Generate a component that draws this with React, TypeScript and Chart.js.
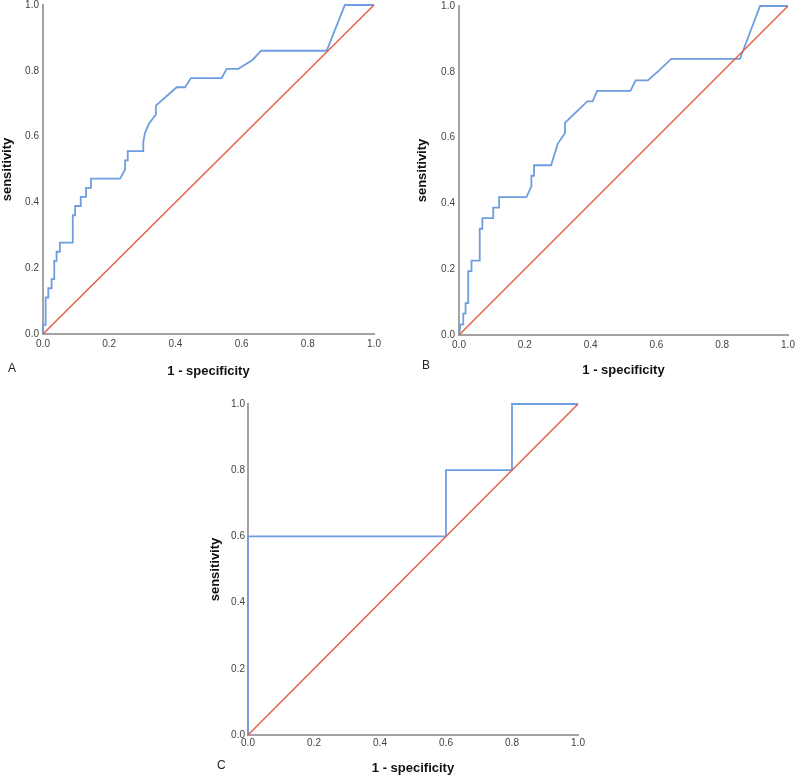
import React, { useEffect, useRef } from "react";
import { Chart, registerables } from "chart.js";

Chart.register(...registerables);

// ---- data ----
const DIAG_X = [0, 1];
const DIAG_Y = [0, 1];

const A_FPR = [0, 0, 0.008, 0.008, 0.016, 0.016, 0.026, 0.026, 0.034, 0.034, 0.041, 0.041, 0.051, 0.051, 0.09, 0.09, 0.097, 0.097, 0.114, 0.114, 0.13, 0.13, 0.145, 0.145, 0.233, 0.248, 0.248, 0.256, 0.256, 0.303, 0.303, 0.308, 0.32, 0.341, 0.341, 0.404, 0.429, 0.447, 0.54, 0.555, 0.59, 0.633, 0.659, 0.857, 0.912, 1.0];
const A_TPR = [0, 0.028, 0.028, 0.111, 0.111, 0.139, 0.139, 0.167, 0.167, 0.222, 0.222, 0.25, 0.25, 0.278, 0.278, 0.361, 0.361, 0.389, 0.389, 0.417, 0.417, 0.444, 0.444, 0.472, 0.472, 0.5, 0.528, 0.528, 0.556, 0.556, 0.583, 0.611, 0.639, 0.667, 0.694, 0.75, 0.75, 0.778, 0.778, 0.806, 0.806, 0.833, 0.861, 0.861, 1.0, 1.0];

const B_FPR = [0, 0.005, 0.013, 0.013, 0.02, 0.02, 0.028, 0.028, 0.038, 0.038, 0.063, 0.063, 0.071, 0.071, 0.104, 0.104, 0.122, 0.122, 0.205, 0.22, 0.22, 0.228, 0.228, 0.28, 0.3, 0.322, 0.322, 0.39, 0.406, 0.42, 0.521, 0.537, 0.574, 0.61, 0.645, 0.854, 0.915, 1.0];
const B_TPR = [0, 0.032, 0.032, 0.065, 0.065, 0.097, 0.097, 0.194, 0.194, 0.226, 0.226, 0.323, 0.323, 0.355, 0.355, 0.387, 0.387, 0.419, 0.419, 0.452, 0.484, 0.484, 0.516, 0.516, 0.581, 0.613, 0.645, 0.71, 0.71, 0.742, 0.742, 0.774, 0.774, 0.806, 0.839, 0.839, 1.0, 1.0];

const C_FPR = [0, 0, 0.6, 0.6, 0.8, 0.8, 1.0];
const C_TPR = [0, 0.6, 0.6, 0.8, 0.8, 1.0, 1.0];

const X_TITLE = "1 - specificity";
const Y_TITLE = "sensitivity";

// ---- styles ----
const BLUE = "#6f9de0";
const RED = "#e4644e";
const AXIS = "#a3a3a3";
const TICK = "#444444";
const FONT = "'Liberation Sans', Arial, sans-serif";

type Geo = {
  left: number; top: number; width: number; height: number;
  padTop: number; padRight: number; yAxisW: number; xAxisH: number;
  yTickPad: number; xTickPad: number; yTitlePad: number; xTitlePad: number;
};

function Panel({ fpr, tpr, geo }: { fpr: number[]; tpr: number[]; geo: Geo }) {
  const ref = useRef<HTMLCanvasElement | null>(null);
  useEffect(() => {
    if (!ref.current) return;
    const tickFont = { family: FONT, size: 10 };
    const titleFont = { family: FONT, size: 13, weight: "bold" as const, lineHeight: 1 };
    const chart = new Chart(ref.current, {
      type: "scatter",
      data: {
        datasets: [
          {
            data: DIAG_X.map((x, i) => ({ x, y: DIAG_Y[i] })),
            borderColor: RED,
            borderWidth: 1.6,
            showLine: true,
            pointRadius: 0,
            clip: false as any,
            order: 1,
          },
          {
            data: fpr.map((x, i) => ({ x, y: tpr[i] })),
            borderColor: BLUE,
            borderWidth: 1.8,
            showLine: true,
            pointRadius: 0,
            clip: false as any,
            order: 2,
          },
        ],
      },
      options: {
        responsive: false,
        animation: false,
        devicePixelRatio: 1,
        layout: { padding: { left: 0, top: geo.padTop, right: geo.padRight, bottom: 0 } },
        plugins: { legend: { display: false }, tooltip: { enabled: false } },
        scales: {
          x: {
            type: "linear",
            min: 0,
            max: 1,
            grid: { display: false, drawTicks: false },
            border: { display: true, color: AXIS, width: 2 },
            ticks: {
              stepSize: 0.2,
              padding: geo.xTickPad,
              color: TICK,
              font: tickFont,
              maxRotation: 0,
              autoSkip: false,
              callback: (v: any) => Number(v).toFixed(1),
            },
            title: {
              display: true,
              text: X_TITLE,
              color: "#111",
              font: titleFont,
              padding: { top: 0, bottom: geo.xTitlePad },
            },
            afterFit: (s: any) => {
              s.height = geo.xAxisH;
              s.paddingLeft = 0;
              s.paddingRight = 0;
            },
          },
          y: {
            type: "linear",
            min: 0,
            max: 1,
            grid: { display: false, drawTicks: false },
            border: { display: true, color: AXIS, width: 2 },
            ticks: {
              stepSize: 0.2,
              padding: geo.yTickPad,
              color: TICK,
              font: tickFont,
              autoSkip: false,
              callback: (v: any) => Number(v).toFixed(1),
            },
            title: {
              display: true,
              text: Y_TITLE,
              color: "#111",
              font: titleFont,
              padding: { top: geo.yTitlePad, bottom: 0 },
            },
            afterFit: (s: any) => {
              s.width = geo.yAxisW;
              s.paddingTop = 0;
              s.paddingBottom = 0;
            },
          },
        },
      },
    });
    return () => chart.destroy();
  }, [fpr, tpr, geo]);
  return (
    <canvas
      ref={ref}
      width={geo.width}
      height={geo.height}
      style={{ position: "absolute", left: geo.left, top: geo.top, width: geo.width, height: geo.height }}
    />
  );
}

const GEO_A: Geo = { left: 0, top: 0, width: 390, height: 390, padTop: 5, padRight: 16, yAxisW: 43, xAxisH: 56, yTickPad: 4, xTickPad: 4, yTitlePad: 0.5, xTitlePad: 12.5 };
const GEO_B: Geo = { left: 415, top: 0, width: 385, height: 390, padTop: 6, padRight: 12, yAxisW: 44, xAxisH: 55, yTickPad: 4, xTickPad: 4, yTitlePad: 0.5, xTitlePad: 13 };
const GEO_C: Geo = { left: 200, top: 395, width: 400, height: 384, padTop: 9, padRight: 22, yAxisW: 48, xAxisH: 44, yTickPad: 3, xTickPad: 2, yTitlePad: 8.5, xTitlePad: 4.5 };

const letterStyle = (left: number, top: number): React.CSSProperties => ({
  position: "absolute",
  left,
  top,
  font: `12px ${FONT}`,
  lineHeight: "14px",
  color: "#222",
});

export default function App() {
  return (
    <div style={{ position: "absolute", left: 0, top: 0, width: 800, height: 779, background: "#fff", overflow: "hidden" }}>
      <Panel fpr={A_FPR} tpr={A_TPR} geo={GEO_A} />
      <Panel fpr={B_FPR} tpr={B_TPR} geo={GEO_B} />
      <Panel fpr={C_FPR} tpr={C_TPR} geo={GEO_C} />
      <span style={letterStyle(8, 361)}>A</span>
      <span style={letterStyle(422, 358)}>B</span>
      <span style={letterStyle(217, 758)}>C</span>
    </div>
  );
}
